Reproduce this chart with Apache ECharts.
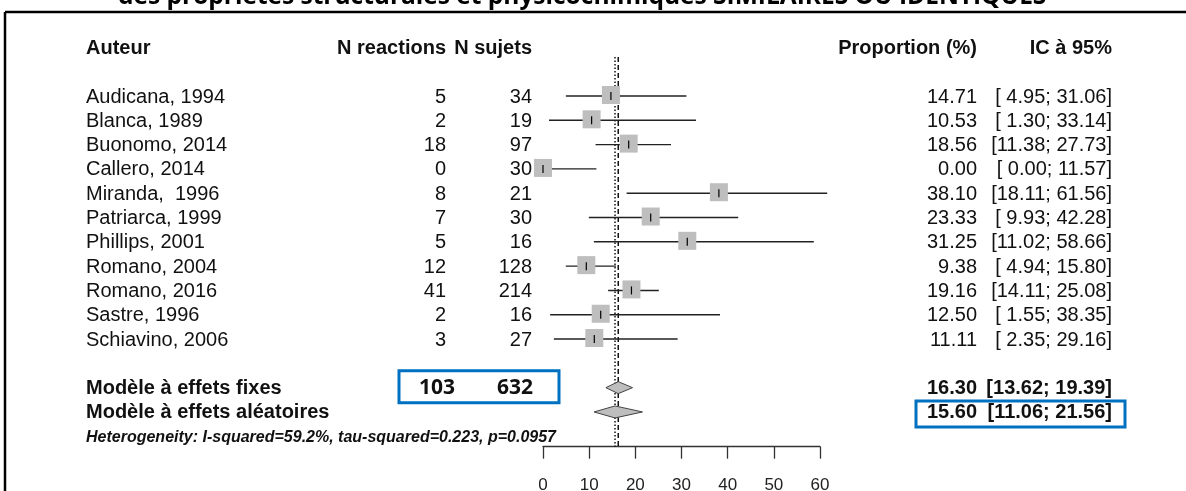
<!DOCTYPE html>
<html>
<head>
<meta charset="utf-8">
<script src="https://cdn.jsdelivr.net/npm/echarts@6/dist/echarts.min.js"></script>
<style>
  html, body { margin: 0; padding: 0; background: #fff; }
  #chart { width: 1186px; height: 491px; }
</style>
</head>
<body>
<div id="chart"></div>
<script>
// data
const studies = ['Audicana, 1994', 'Blanca, 1989', 'Buonomo, 2014', 'Callero, 2014', 'Miranda,  1996',
  'Patriarca, 1999', 'Phillips, 2001', 'Romano, 2004', 'Romano, 2016', 'Sastre, 1996', 'Schiavino, 2006']
const nReactions = [5, 2, 18, 0, 8, 7, 5, 12, 41, 2, 3]
const nSujets = [34, 19, 97, 30, 21, 30, 16, 128, 214, 16, 27]
const proportion = [14.71, 10.53, 18.56, 0.00, 38.10, 23.33, 31.25, 9.38, 19.16, 12.50, 11.11]
const ciLower = [4.95, 1.30, 11.38, 0.00, 18.11, 9.93, 11.02, 4.94, 14.11, 1.55, 2.35]
const ciUpper = [31.06, 33.14, 27.73, 11.57, 61.56, 42.28, 58.66, 15.80, 25.08, 38.35, 29.16]

const pooledLabels = ['Modèle à effets fixes', 'Modèle à effets aléatoires']
const pooledEst = [16.30, 15.60]
const pooledLower = [13.62, 11.06]
const pooledUpper = [19.39, 21.56]
const totalReactions = 103
const totalSujets = 632

const headers = ['Auteur', 'N reactions', 'N sujets', 'Proportion (%)', 'IC à 95%']
const heterogeneity = 'Heterogeneity: I-squared=59.2%, tau-squared=0.223, p=0.0957'
const xTicks = [0, 10, 20, 30, 40, 50, 60]
const title = 'des propriétés structurales et physicochimiques SIMILAIRES OU IDENTIQUES'

// layout
const FONT = "'Liberation Sans', Arial, sans-serif"
const COL = { auteur: 86, nEv: 446, nTot: 532, prop: 977, ic: 1112 }
const ROW_HEADER = -2
const ROW_FIXED = studies.length + 1
const ROW_RANDOM = studies.length + 2
const ROW_HET = studies.length + 3.03
const ROW_LINE_TOP = -1.6
const AXIS_ROW = 14.43
const TXT_DY = 1

const fmt = v => v.toFixed(2)
const pad = v => (v < 10 ? ' ' : '') + fmt(v)
const ciText = (lo, hi) => '[' + pad(lo) + '; ' + fmt(hi) + ']'

const txt = (text, x, y, align, opts = {}) => ({
  type: 'text',
  style: {
    text, x, y: y + TXT_DY, align, verticalAlign: 'middle',
    font: `${opts.italic ? 'italic ' : ''}${opts.bold ? 'bold ' : ''}${opts.size || 20}px ${opts.family || FONT}`,
    fill: opts.color || '#111'
  }
})

const chart = echarts.init(document.getElementById('chart'))

const option = {
  backgroundColor: '#fff',
  animation: false,
  grid: {
    left: 543, width: 277, top: 96 - 24.3, bottom: 491 - 446.7,
    containLabel: false, outerBoundsMode: 'none'
  },
  xAxis: {
    type: 'value', min: xTicks[0], max: xTicks[xTicks.length - 1], interval: 10,
    axisLine: { onZero: false, lineStyle: { color: '#333', width: 1.3 } },
    axisTick: { length: 12, lineStyle: { color: '#333', width: 1.3 } },
    axisLabel: { fontSize: 17, fontFamily: FONT, color: '#222', margin: 30 },
    splitLine: { show: false }
  },
  yAxis: { type: 'value', inverse: true, min: -1, max: AXIS_ROW, show: false },
  graphic: [
    { type: 'line', shape: { x1: 5, y1: 12, x2: 1186, y2: 12 }, style: { stroke: '#000', lineWidth: 2.5 } },
    { type: 'line', shape: { x1: 5, y1: 12, x2: 5, y2: 491 }, style: { stroke: '#000', lineWidth: 2.5 } },
    {
      type: 'text', x: 0, y: 0,
      style: {
        text: title, x: 118, y: 10, verticalAlign: 'bottom',
        font: "bold 24.5px 'Open Sans', sans-serif", fill: '#000'
      }
    }
  ],
  series: [
    {
      // reference lines: fixed (dashed) and random (dotted)
      type: 'custom', clip: false, silent: true, z: 1,
      data: [[pooledEst[0], 0, 0], [pooledEst[1], 0, 1]],
      renderItem: (params, api) => {
        const x = api.coord([api.value(0), 0])[0]
        const y1 = api.coord([0, ROW_LINE_TOP])[1]
        const y2 = api.coord([0, AXIS_ROW])[1]
        return {
          type: 'line', shape: { x1: x, y1, x2: x, y2 },
          style: { stroke: '#111', lineWidth: 1.5, lineDash: api.value(2) === 0 ? [5, 3] : [1.5, 2] }
        }
      }
    },
    {
      // study CIs and squares
      type: 'custom', clip: false, silent: true, z: 2,
      data: studies.map((s, i) => [proportion[i], i, ciLower[i], ciUpper[i]]),
      renderItem: (params, api) => {
        const [xe, y] = api.coord([api.value(0), api.value(1)])
        const xl = api.coord([api.value(2), 0])[0]
        const xh = api.coord([api.value(3), 0])[0]
        return {
          type: 'group', children: [
            { type: 'line', shape: { x1: xl, y1: y, x2: xh, y2: y }, style: { stroke: '#222', lineWidth: 1.4 } },
            { type: 'rect', shape: { x: xe - 9, y: y - 10, width: 18, height: 18 }, style: { fill: '#BEBEBE' } },
            { type: 'line', shape: { x1: xe, y1: y - 4, x2: xe, y2: y + 4 }, style: { stroke: '#000', lineWidth: 1.2 } }
          ]
        }
      }
    },
    {
      // pooled diamonds
      type: 'custom', clip: false, silent: true, z: 3,
      data: pooledEst.map((e, i) => [e, i === 0 ? ROW_FIXED : ROW_RANDOM, pooledLower[i], pooledUpper[i]]),
      renderItem: (params, api) => {
        const [xe, y] = api.coord([api.value(0), api.value(1)])
        const xl = api.coord([api.value(2), 0])[0]
        const xh = api.coord([api.value(3), 0])[0]
        return {
          type: 'polygon',
          shape: { points: [[xl, y], [xe, y - 6], [xh, y], [xe, y + 6]] },
          style: { fill: '#BEBEBE', stroke: '#444', lineWidth: 1 }
        }
      }
    },
    {
      // text columns
      type: 'custom', clip: false, silent: true, z: 4,
      data: studies.map((s, i) => [0, i]),
      renderItem: (params, api) => {
        const i = params.dataIndex
        const y = api.coord([0, api.value(1)])[1]
        return {
          type: 'group', children: [
            txt(studies[i], COL.auteur, y, 'left'),
            txt(String(nReactions[i]), COL.nEv, y, 'right'),
            txt(String(nSujets[i]), COL.nTot, y, 'right'),
            txt(fmt(proportion[i]), COL.prop, y, 'right'),
            txt(ciText(ciLower[i], ciUpper[i]), COL.ic, y, 'right')
          ]
        }
      }
    },
    {
      // headers, pooled rows, heterogeneity, highlight boxes
      type: 'custom', clip: false, silent: true, z: 4,
      data: [[0, 0]],
      renderItem: (params, api) => {
        const yH = api.coord([0, ROW_HEADER])[1]
        const yF = api.coord([0, ROW_FIXED])[1]
        const yR = api.coord([0, ROW_RANDOM])[1]
        const yHet = api.coord([0, ROW_HET])[1]
        const b = { bold: true }
        return {
          type: 'group', children: [
            txt(headers[0], COL.auteur, yH, 'left', b),
            txt(headers[1], COL.nEv, yH, 'right', b),
            txt(headers[2], COL.nTot, yH, 'right', b),
            txt(headers[3], COL.prop, yH, 'right', b),
            txt(headers[4], COL.ic, yH, 'right', b),
            txt(pooledLabels[0], COL.auteur, yF, 'left', b),
            txt(pooledLabels[1], COL.auteur, yR, 'left', b),
            txt(fmt(pooledEst[0]), COL.prop, yF, 'right', b),
            txt(ciText(pooledLower[0], pooledUpper[0]), COL.ic, yF, 'right', b),
            txt(fmt(pooledEst[1]), COL.prop, yR, 'right', b),
            txt(ciText(pooledLower[1], pooledUpper[1]), COL.ic, yR, 'right', b),
            txt(String(totalReactions), 437, yF - 1, 'center', { bold: true, size: 21, family: "'Open Sans', sans-serif" }),
            txt(String(totalSujets), 515, yF - 1, 'center', { bold: true, size: 21, family: "'Open Sans', sans-serif" }),
            txt(heterogeneity, COL.auteur, yHet, 'left', { bold: true, italic: true, size: 16 }),
            { type: 'rect', shape: { x: 399, y: yF - 17, width: 160, height: 32 }, style: { fill: 'none', stroke: '#0070C0', lineWidth: 3 } },
            { type: 'rect', shape: { x: 916, y: yR - 11, width: 209, height: 26 }, style: { fill: 'none', stroke: '#0070C0', lineWidth: 3 } }
          ]
        }
      }
    }
  ]
}

chart.setOption(option)
</script>
</body>
</html>
